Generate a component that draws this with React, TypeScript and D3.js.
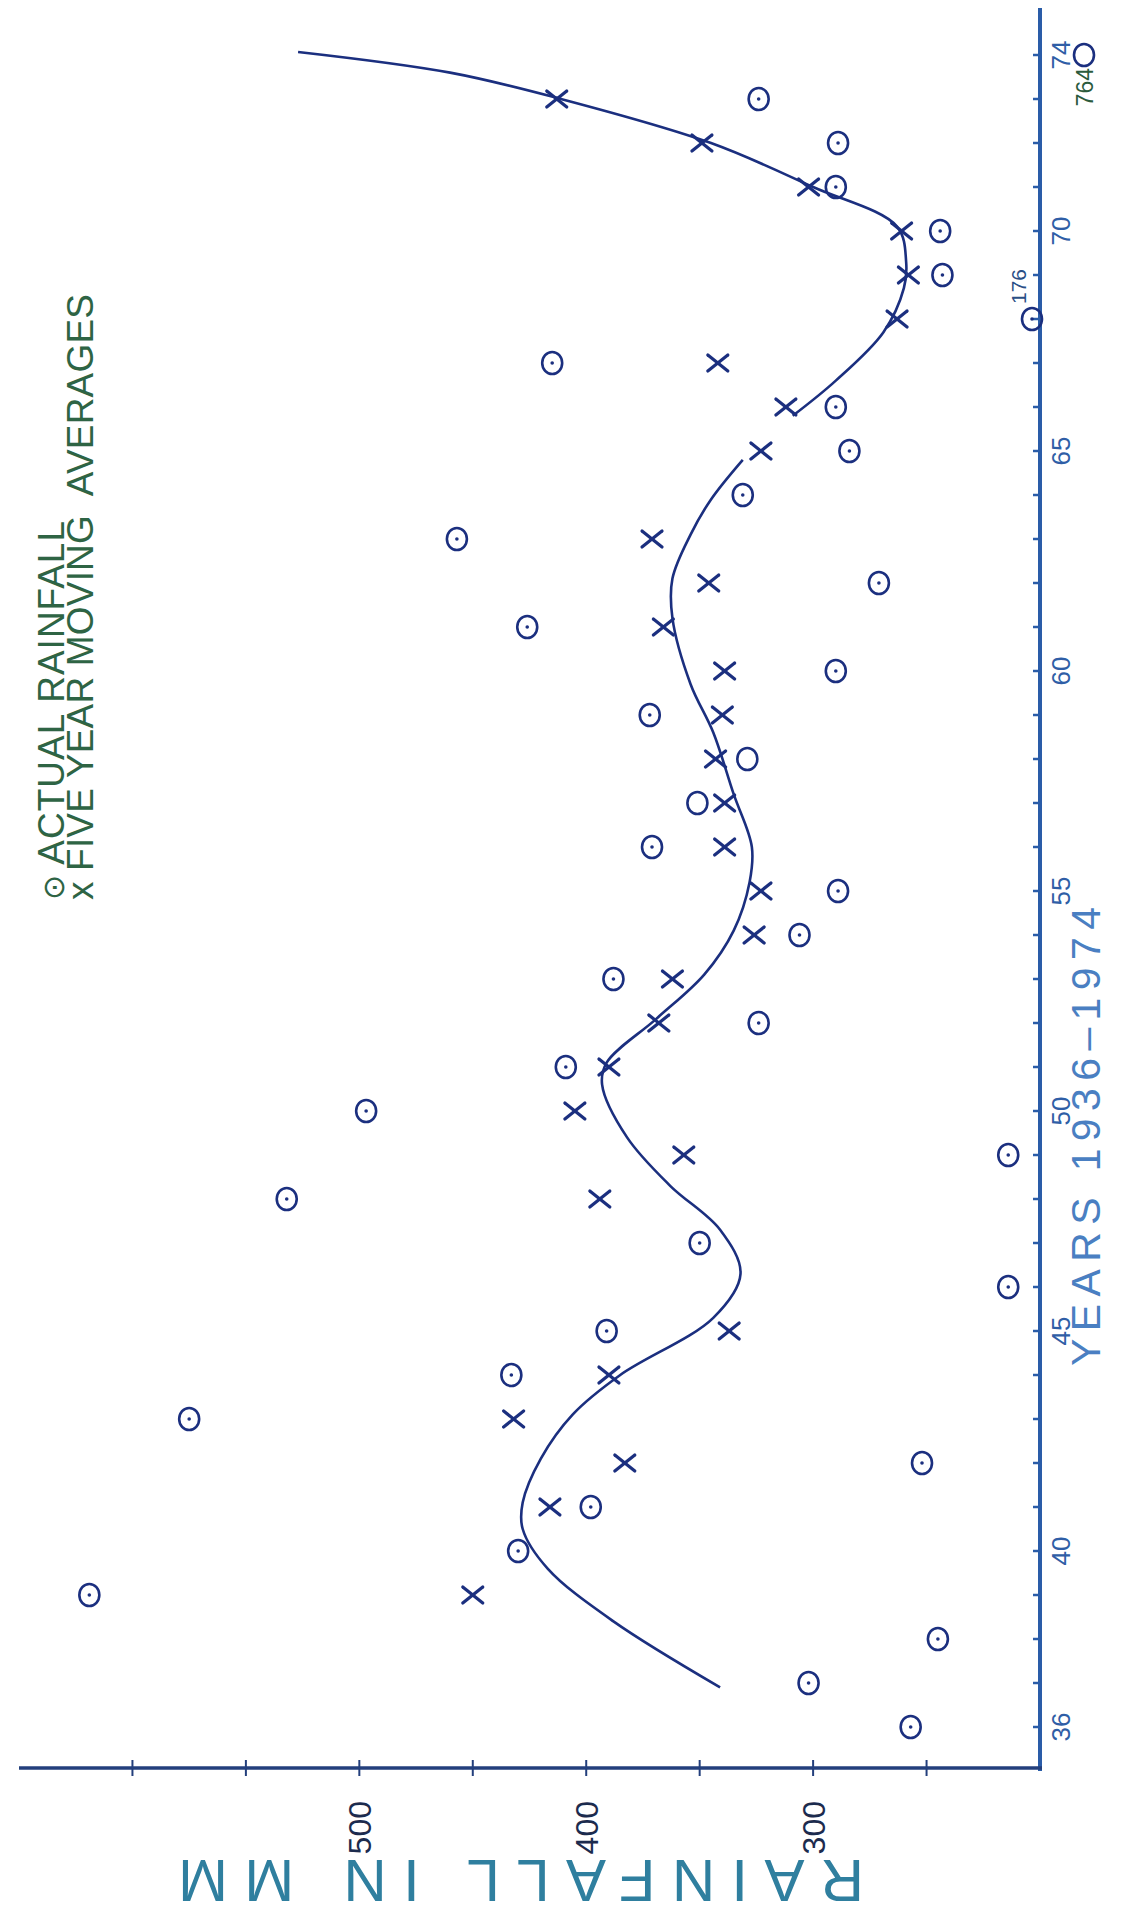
import React from 'react';
import * as d3 from 'd3';

const WIDTH = 1121;
const HEIGHT = 1920;

// years are written as on the axis (19xx), rainfall in mm
const actualRainfall = [
  { year: 36, mm: 257 }, { year: 37, mm: 302 }, { year: 38, mm: 245 }, { year: 39, mm: 619 },
  { year: 40, mm: 430 }, { year: 41, mm: 398 }, { year: 42, mm: 252 }, { year: 43, mm: 575 },
  { year: 44, mm: 433 }, { year: 45, mm: 391 }, { year: 46, mm: 214 }, { year: 47, mm: 350 },
  { year: 48, mm: 532 }, { year: 49, mm: 214 }, { year: 50, mm: 497 }, { year: 51, mm: 409 },
  { year: 52, mm: 324 }, { year: 53, mm: 388 }, { year: 54, mm: 306 }, { year: 55, mm: 289 },
  { year: 56, mm: 371 }, { year: 57, mm: 351 }, { year: 58, mm: 329 }, { year: 59, mm: 372 },
  { year: 60, mm: 290 }, { year: 61, mm: 426 }, { year: 62, mm: 271 }, { year: 63, mm: 457 },
  { year: 64, mm: 331 }, { year: 65, mm: 284 }, { year: 66, mm: 290 }, { year: 67, mm: 415 },
  { year: 68, mm: 176 }, { year: 69, mm: 243 }, { year: 70, mm: 244 }, { year: 71, mm: 290 },
  { year: 72, mm: 289 }, { year: 73, mm: 324 }, { year: 74, mm: 764 },
];

// these were drawn as plain rings, no centre dot
const plainRingYears = [57, 58, 74];

const movingAverages = [
  { year: 39, mm: 450 }, { year: 41, mm: 416 }, { year: 42, mm: 383 }, { year: 43, mm: 432 },
  { year: 44, mm: 390 }, { year: 45, mm: 337 }, { year: 48, mm: 394 }, { year: 49, mm: 357 },
  { year: 50, mm: 405 }, { year: 51, mm: 390 }, { year: 52, mm: 368 }, { year: 53, mm: 362 },
  { year: 54, mm: 326 }, { year: 55, mm: 323 }, { year: 56, mm: 339 }, { year: 57, mm: 339 },
  { year: 58, mm: 343 }, { year: 59, mm: 340 }, { year: 60, mm: 339 }, { year: 61, mm: 366 },
  { year: 62, mm: 346 }, { year: 63, mm: 371 }, { year: 65, mm: 323 }, { year: 66, mm: 312 },
  { year: 67, mm: 342 }, { year: 68, mm: 263 }, { year: 69, mm: 258 }, { year: 70, mm: 261 },
  { year: 71, mm: 302 }, { year: 72, mm: 349 }, { year: 73, mm: 413 },
];

// hand drawn trend, two pieces
const trendEarly = [
  { year: 36.9, mm: 341 }, { year: 38.4, mm: 388 }, { year: 39.6, mm: 417 }, { year: 40.5, mm: 428 },
  { year: 41.1, mm: 428 }, { year: 42.1, mm: 420 }, { year: 43.1, mm: 406 }, { year: 44.0, mm: 385 },
  { year: 45.3, mm: 344 }, { year: 46.3, mm: 332 }, { year: 47.3, mm: 341 }, { year: 48.3, mm: 363 },
  { year: 49.4, mm: 382 }, { year: 50.6, mm: 393 }, { year: 51.1, mm: 391 }, { year: 52.1, mm: 369 },
  { year: 53.1, mm: 348 }, { year: 54.1, mm: 335 }, { year: 55.2, mm: 328 }, { year: 56.0, mm: 327 },
  { year: 57.2, mm: 335 }, { year: 58.6, mm: 344 }, { year: 59.7, mm: 354 }, { year: 61.2, mm: 362 },
  { year: 62.1, mm: 362 }, { year: 63.1, mm: 354 }, { year: 63.9, mm: 345 }, { year: 64.8, mm: 331 },
];

const trendLate = [
  { year: 65.8, mm: 309 }, { year: 66.6, mm: 290 }, { year: 67.7, mm: 269 }, { year: 68.7, mm: 260 },
  { year: 69.3, mm: 259 }, { year: 70.1, mm: 263 }, { year: 71.0, mm: 300 }, { year: 72.0, mm: 345 },
  { year: 73.0, mm: 411 }, { year: 73.6, mm: 460 }, { year: 74.07, mm: 527 },
];

const yearLabels = [36, 40, 45, 50, 55, 60, 65, 70, 74];
const rainTicks = [250, 300, 350, 400, 450, 500, 550, 600];
const rainLabels = [300, 400, 500];

const INK = '#1b2f7f';
const FONT = '"Liberation Sans", Arial, sans-serif';

export default function App() {
  // chart is drawn turned a quarter: years run up the right edge, rainfall grows to the left
  const yearY = d3.scaleLinear().domain([35, 75]).range([1771, 11]);
  const rainX = d3.scaleLinear().domain([200, 650]).range([1040, 19]);

  const axisX = rainX(200);
  const axisY = yearY(35);

  // off-scale values are put at the edge and labelled
  const markX = (mm: number) => {
    if (mm < 200) return axisX - 8;
    if (mm > 650) return axisX + 44;
    return rainX(mm);
  };

  const trendLine = d3
    .line<{ year: number; mm: number }>()
    .x((d) => rainX(d.mm))
    .y((d) => yearY(d.year))
    .curve(d3.curveCatmullRom.alpha(0.5));

  const yearTicks = d3.range(36, 75);

  return (
    <div style={{ position: 'absolute', top: 0, left: 0 }}>
      <svg width={WIDTH} height={HEIGHT} style={{ display: 'block', background: '#fff' }}>
        {/* year axis */}
        <line x1={axisX} x2={axisX} y1={8} y2={axisY} stroke="#2a5ca8" strokeWidth={4} />
        {yearTicks.map((t) => (
          <line key={t} x1={axisX - 7} x2={axisX} y1={yearY(t)} y2={yearY(t)} stroke="#2a5ca8" strokeWidth={2.5} />
        ))}
        {yearLabels.map((t) => (
          <text
            key={t}
            transform={`translate(${axisX + 30},${yearY(t)}) rotate(-90)`}
            textAnchor="middle"
            fontFamily={FONT}
            fontSize={26}
            fill="#2f5ea6"
          >
            {t}
          </text>
        ))}
        <text
          transform={`translate(${axisX + 60},1366) rotate(-90)`}
          fontFamily={FONT}
          fontSize={41}
          fill="#4a7fc2"
          textLength={459}
          lengthAdjust="spacing"
        >
          YEARS 1936–1974
        </text>

        {/* rainfall axis */}
        <line x1={rainX(650)} x2={axisX + 2} y1={axisY - 3} y2={axisY - 3} stroke="#233f7c" strokeWidth={3.5} />
        {rainTicks.map((t) => (
          <line key={t} x1={rainX(t)} x2={rainX(t)} y1={axisY - 11} y2={axisY + 5} stroke="#233f7c" strokeWidth={2} />
        ))}
        {rainLabels.map((t) => (
          <text
            key={t}
            transform={`translate(${rainX(t) + 12},${axisY + 30}) rotate(-90)`}
            textAnchor="end"
            fontFamily={FONT}
            fontSize={32}
            fill="#1c2b4e"
          >
            {t}
          </text>
        ))}
        <text
          transform={`translate(521,1860) rotate(180)`}
          textAnchor="middle"
          fontFamily={FONT}
          fontSize={60}
          fill="#2f7f9f"
          textLength={686}
          lengthAdjust="spacing"
        >
          RAINFALL IN MM
        </text>

        {/* legend */}
        <text
          transform={`translate(64,900) rotate(-90)`}
          fontFamily={FONT}
          fontSize={37}
          fill="#2e6444"
          textLength={379}
          lengthAdjust="spacing"
        >
          <tspan fontFamily="DejaVu Sans" fontSize={30}>⊙</tspan> ACTUAL RAINFALL
        </text>
        <text
          transform={`translate(93,900) rotate(-90)`}
          fontFamily={FONT}
          fontSize={37}
          fill="#2e6444"
          textLength={606}
          lengthAdjust="spacing"
          style={{ whiteSpace: 'pre' }}
        >
          x FIVE YEAR MOVING  AVERAGES
        </text>

        {/* trend curves */}
        <path d={trendLine(trendEarly) || ''} fill="none" stroke={INK} strokeWidth={2.6} />
        <path d={trendLine(trendLate) || ''} fill="none" stroke={INK} strokeWidth={2.6} />

        {/* moving averages */}
        {movingAverages.map((d) => {
          const cx = rainX(d.mm);
          const cy = yearY(d.year);
          const s = 10;
          return (
            <g key={d.year} stroke={INK} strokeWidth={3.2} strokeLinecap="round">
              <line x1={cx - s} x2={cx + s} y1={cy - s * 0.8} y2={cy + s * 0.8} />
              <line x1={cx - s} x2={cx + s} y1={cy + s * 0.8} y2={cy - s * 0.8} />
            </g>
          );
        })}

        {/* actual rainfall */}
        {actualRainfall.map((d) => {
          const cx = markX(d.mm);
          const cy = yearY(d.year);
          const plain = plainRingYears.includes(d.year);
          return (
            <g key={d.year}>
              <ellipse cx={cx} cy={cy} rx={10} ry={11} fill="none" stroke={INK} strokeWidth={2.6} />
              {!plain && <circle cx={cx} cy={cy} r={1.8} fill={INK} />}
              {d.mm < 200 && (
                <text
                  transform={`translate(${cx - 6},${cy - 15}) rotate(-90)`}
                  fontFamily={FONT}
                  fontSize={21}
                  fill="#2a4f86"
                >
                  {d.mm}
                </text>
              )}
              {d.mm > 650 && (
                <text
                  transform={`translate(${cx + 9},${cy + 13}) rotate(-90)`}
                  textAnchor="end"
                  fontFamily={FONT}
                  fontSize={23}
                  fill="#2b5b3d"
                >
                  {d.mm}
                </text>
              )}
            </g>
          );
        })}
      </svg>
    </div>
  );
}
